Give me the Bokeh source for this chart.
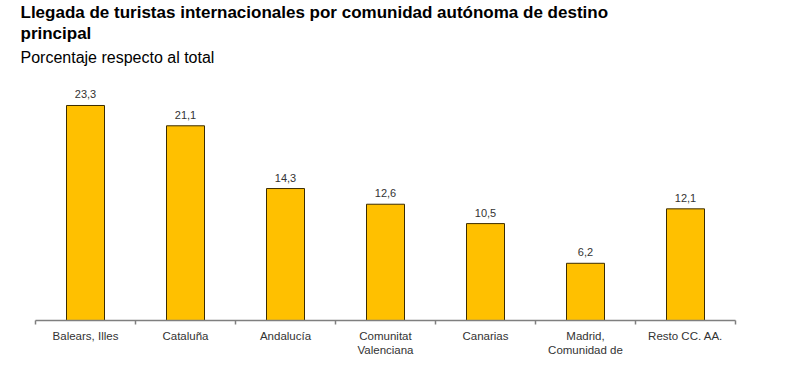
from bokeh.plotting import figure
from bokeh.models import (ColumnDataSource, Range1d, LinearAxis, FixedTicker, Title)
from bokeh.core.properties import value
from bokeh.embed import file_html
from bokeh.resources import INLINE

categories = ["Balears, Illes", "Cataluña", "Andalucía", "Comunitat Valenciana",
              "Canarias", "Madrid, Comunidad de", "Resto CC. AA."]
axis_labels = ["Balears, Illes", "Cataluña", "Andalucía", "Comunitat\nValenciana",
               "Canarias", "Madrid,\nComunidad de", "Resto CC. AA."]
values = [23.3, 21.1, 14.3, 12.6, 10.5, 6.2, 12.1]
value_labels = [f"{v:.1f}".replace(".", ",") for v in values]

FONT = "Liberation Sans"
n = len(categories)
centers = [i + 0.5 for i in range(n)]
boundaries = list(range(n + 1))

src = ColumnDataSource(dict(x=centers, cat=categories, val=values, lab=value_labels))

p = figure(width=770, height=358, x_range=Range1d(0, n),
           y_range=Range1d(0, 27.2), output_backend="svg", toolbar_location=None,
           x_axis_location=None, y_axis_location=None,
           min_border_left=35, min_border_right=35, min_border_bottom=38)
p.title = None
p.outline_line_color = None
p.xgrid.visible = False
p.ygrid.visible = False
p.background_fill_color = "white"

p.add_layout(Title(text="Porcentaje respecto al total", text_font=FONT,
                   text_font_size="16px", text_font_style="normal",
                   text_color="#000000", offset=-15, standoff=8), "above")
p.add_layout(Title(text="principal", text_font=FONT, text_font_size="17px",
                   text_font_style="bold", text_color="#000000", offset=-15,
                   standoff=0), "above")
p.add_layout(Title(text="Llegada de turistas internacionales por comunidad autónoma de destino",
                   text_font=FONT, text_font_size="17px", text_font_style="bold",
                   text_color="#000000", offset=-15, standoff=0), "above")

p.vbar(x="x", top="val", width=0.38, source=src, fill_color="#FFC000",
       line_color="#3b2c00", line_width=1)
p.text(x="x", y="val", text="lab", source=src, text_align="center",
       text_baseline="bottom", y_offset=-7, text_font=value(FONT),
       text_font_size="11px", text_color="#333333")

xaxis = LinearAxis(ticker=FixedTicker(ticks=centers, minor_ticks=boundaries),
                   axis_line_color="#7f7f7f", axis_line_width=1.5,
                   major_tick_line_color=None,
                   minor_tick_in=0, minor_tick_out=4,
                   minor_tick_line_color="#7f7f7f", minor_tick_line_width=1.5,
                   major_label_standoff=3,
                   major_label_text_font=FONT, major_label_text_font_size="11.5px",
                   major_label_text_color="#333333",
                   major_label_overrides=dict(zip(centers, axis_labels)))
p.add_layout(xaxis, "below")

open("out.html", "w").write(file_html(p, INLINE))
